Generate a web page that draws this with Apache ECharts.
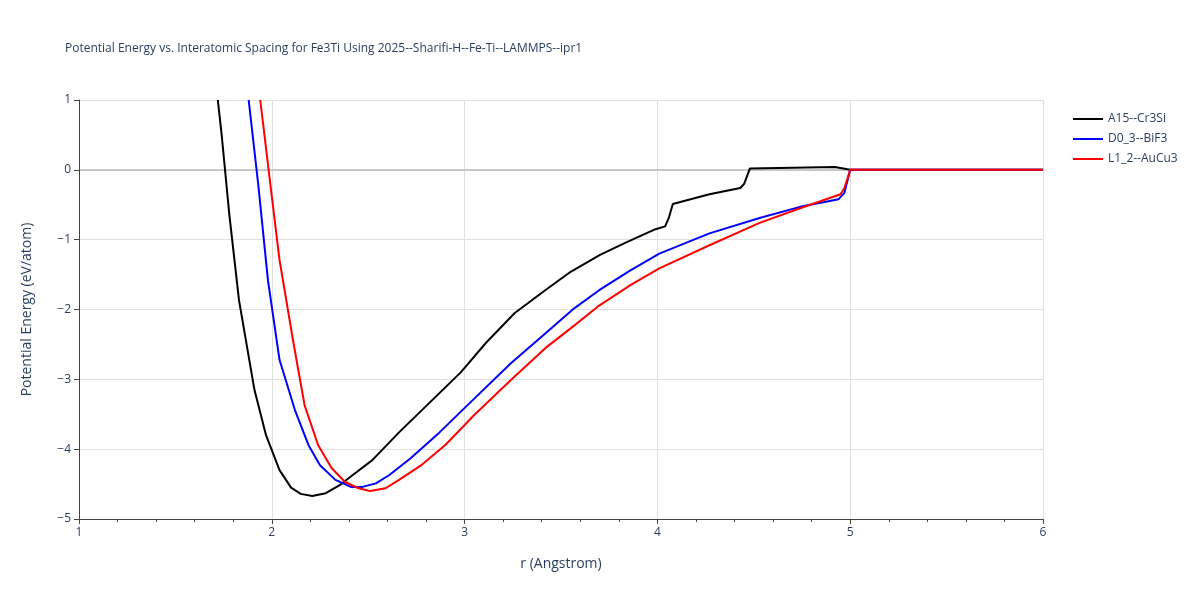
<!DOCTYPE html><html><head><meta charset="utf-8">
<script src="https://cdn.jsdelivr.net/npm/echarts@6/dist/echarts.min.js"></script>
<style>html,body{margin:0;padding:0}#c{width:1200px;height:600px}</style></head><body><div id="c"></div>
<script>
const titleText = 'Potential Energy vs. Interatomic Spacing for Fe3Ti Using 2025--Sharifi-H--Fe-Ti--LAMMPS--ipr1';
const seriesNames = ['A15--Cr3Si','D0_3--BiF3','L1_2--AuCu3'];
const colors = ['#000000','#0000ff','#ff0000'];
const a15 = [[1.72,1],[1.74,0.5],[1.78,-0.65],[1.83,-1.87],[1.91,-3.15],[1.97,-3.8],[2.04,-4.3],[2.10,-4.55],[2.15,-4.64],[2.21,-4.67],[2.28,-4.63],[2.35,-4.52],[2.42,-4.37],[2.52,-4.16],[2.66,-3.76],[2.82,-3.33],[2.98,-2.9],[3.11,-2.48],[3.26,-2.05],[3.42,-1.72],[3.55,-1.46],[3.70,-1.22],[3.83,-1.05],[3.99,-0.85],[4.04,-0.81],[4.06,-0.68],[4.08,-0.49],[4.27,-0.35],[4.43,-0.26],[4.45,-0.2],[4.48,0.02],[4.92,0.04],[5.0,0],[5.5,0],[6,0]];
const d03 = [[1.88,1],[1.93,-0.22],[1.98,-1.58],[2.04,-2.72],[2.12,-3.44],[2.19,-3.94],[2.25,-4.23],[2.33,-4.44],[2.41,-4.54],[2.47,-4.54],[2.54,-4.49],[2.61,-4.37],[2.72,-4.13],[2.87,-3.76],[3.03,-3.33],[3.24,-2.77],[3.42,-2.34],[3.57,-1.98],[3.70,-1.72],[3.86,-1.44],[4.01,-1.2],[4.27,-0.91],[4.53,-0.69],[4.74,-0.53],[4.94,-0.42],[4.97,-0.33],[5.0,0],[5.5,0],[6,0]];
const l12 = [[1.94,1],[1.99,-0.15],[2.04,-1.29],[2.11,-2.44],[2.17,-3.37],[2.24,-3.94],[2.31,-4.27],[2.38,-4.47],[2.45,-4.56],[2.51,-4.6],[2.59,-4.56],[2.66,-4.44],[2.77,-4.24],[2.90,-3.94],[3.05,-3.51],[3.24,-3.01],[3.42,-2.55],[3.55,-2.27],[3.70,-1.94],[3.86,-1.65],[4.01,-1.41],[4.27,-1.08],[4.53,-0.76],[4.74,-0.55],[4.95,-0.35],[4.97,-0.26],[5.0,0],[5.5,0],[6,0]];
const data = [a15,d03,l12];
const chart = echarts.init(document.getElementById('c'));
const fontC = '#2a3f5f';
chart.setOption({
  animation:false,
  textStyle:{fontFamily:'"Open Sans", Arial, sans-serif'},
  title:{text:titleText,left:60,top:38,textStyle:{fontSize:12,fontWeight:'normal',color:fontC}},
  legend:{orient:'vertical',left:1068,top:108,itemWidth:30,itemHeight:2,itemGap:8,icon:'rect',textStyle:{fontSize:12,color:fontC},data:seriesNames},
  grid:{left:79,right:157,top:100,bottom:81},
  xAxis:{type:'value',min:1,max:6,interval:1,name:'r (Angstrom)',nameLocation:'middle',nameGap:38,nameTextStyle:{fontSize:14,color:fontC},
    axisLine:{onZero:false,lineStyle:{color:'#444'}},axisTick:{show:true,length:5,lineStyle:{color:'#444'}},minorTick:{show:true,splitNumber:5,length:3,lineStyle:{color:'#444'}},
    axisLabel:{color:fontC,fontSize:12},splitLine:{show:true,lineStyle:{color:'#e0e0e0'}}},
  yAxis:{type:'value',min:-5,max:1,interval:1,name:'Potential Energy (eV/atom)',nameLocation:'middle',nameGap:45,nameTextStyle:{fontSize:14,color:fontC},
    axisLine:{show:true,onZero:false,lineStyle:{color:'#444'}},axisTick:{show:true,length:5,lineStyle:{color:'#444'}},
    axisLabel:{color:fontC,fontSize:12,formatter:v=>v<0?'\u2212'+Math.abs(v):String(v)},
    splitLine:{show:true,lineStyle:{color:'#e0e0e0'}}},
  series: seriesNames.map((n,i)=>({name:n,type:'line',data:data[i],showSymbol:false,smooth:false,clip:true,
     lineStyle:{color:colors[i],width:2},itemStyle:{color:colors[i]},
     markLine:i===0?{silent:true,symbol:'none',label:{show:false},lineStyle:{color:'#bbb',width:1.5,type:'solid'},data:[{yAxis:0}],z:0}:undefined}))
});
</script></body></html>
